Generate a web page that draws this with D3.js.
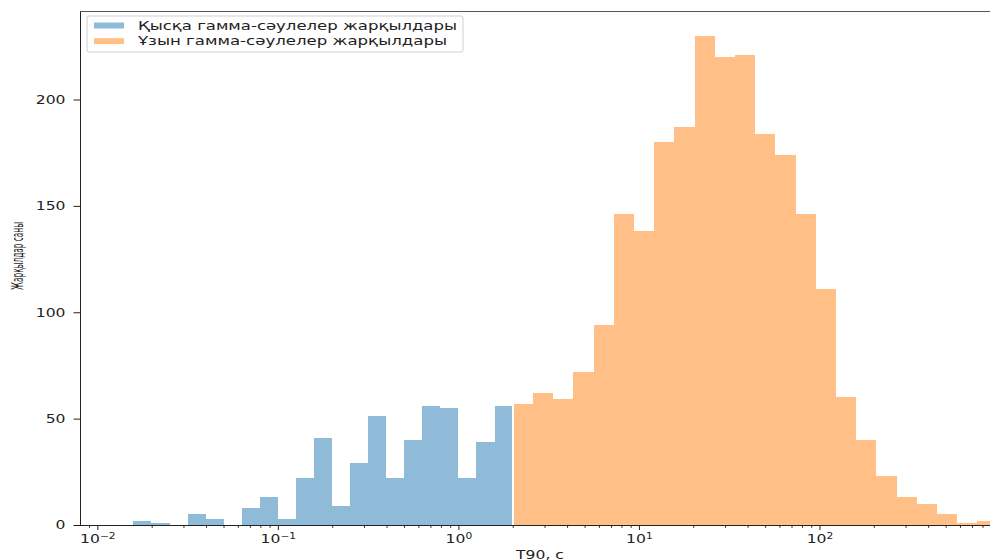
<!DOCTYPE html>
<html>
<head>
<meta charset="utf-8">
<script src="https://cdn.jsdelivr.net/npm/d3@7"></script>
<style>
  html, body { margin: 0; padding: 0; background: #fff; }
  svg { display: block; }
  text { font-family: "DejaVu Sans", sans-serif; fill: #222; }
</style>
</head>
<body>
<svg id="chart" width="990" height="560"></svg>
<script>
// ---- data ----
const shortEdges = [0.01585, 0.01995, 0.02512, 0.03162, 0.03981, 0.05012, 0.06310, 0.07943,
  0.1, 0.1259, 0.1585, 0.1995, 0.2512, 0.3162, 0.3981, 0.5012, 0.6310, 0.7943,
  1.0, 1.259, 1.585, 1.98];
const shortCounts = [2, 1, 0, 5, 3, 0, 8, 13, 3, 22, 41, 9, 29, 51, 22, 40, 56, 55, 22, 39, 56];

const longEdges = [2.03, 2.588, 3.350, 4.335, 5.610, 7.261, 9.385, 12.14, 15.71, 20.33,
  26.30, 34.04, 44.06, 57.02, 73.79, 95.50, 123.4, 159.7, 206.7, 267.5, 346.2,
  448.0, 579.7, 750.2, 970.8];
const longCounts = [57, 62, 59, 72, 94, 146, 138, 180, 187, 230, 220, 221, 184, 174,
  146, 111, 60, 40, 23, 13, 10, 5, 1, 2];

const yTicks = [0, 50, 100, 150, 200];
const xMajorTicks = [0.01, 0.1, 1, 10, 100];
const xTickExponents = ["\u22122", "\u22121", "0", "1", "2"];
const seriesNames = ["Қысқа гамма-сәулелер жарқылдары", "Ұзын гамма-сәулелер жарқылдары"];
const seriesColors = ["#1f77b4", "#ff7f0e"];
const xLabel = "T90, с";
const yLabel = "Жарқылдар саны";

(function () {
// ---- layout ----
const pL = 80, pR = 1000, pT = 11, pB = 525;
const SX = 1.3; // horizontal text stretch seen in the reference

const svg = d3.select("#chart");

const x = d3.scaleLog().domain([Math.pow(10, -2.096), 1000]).range([pL, pR]);
const y = d3.scaleLinear().domain([0, 241.6]).range([pB, pT]);

svg.append("defs").append("clipPath").attr("id", "plotclip")
  .append("rect").attr("x", pL).attr("y", pT).attr("width", pR - pL).attr("height", pB - pT);

const plot = svg.append("g").attr("clip-path", "url(#plotclip)");

function drawHist(edges, counts, color) {
  plot.append("g").selectAll("rect")
    .data(counts)
    .join("rect")
    .attr("x", (d, i) => x(edges[i]))
    .attr("width", (d, i) => x(edges[i + 1]) - x(edges[i]))
    .attr("y", d => y(d))
    .attr("height", d => y(0) - y(d))
    .attr("fill", color)
    .attr("fill-opacity", 0.5)
    .attr("shape-rendering", "crispEdges");
}
drawHist(shortEdges, shortCounts, seriesColors[0]);
drawHist(longEdges, longCounts, seriesColors[1]);

// ---- x axis ----
const xMinor = x.ticks().filter(v => Math.abs(Math.log10(v) - Math.round(Math.log10(v))) > 1e-6);
const gxMinor = svg.append("g").attr("transform", `translate(0,${pB})`)
  .call(d3.axisBottom(x).tickValues(xMinor).tickSize(2.8).tickFormat(""));
gxMinor.select(".domain").remove();
gxMinor.selectAll("line").attr("stroke", "#222");

const gx = svg.append("g").attr("transform", `translate(0,${pB})`)
  .call(d3.axisBottom(x).tickValues(xMajorTicks).tickSize(5).tickFormat(() => ""));
gx.select(".domain").remove();
gx.selectAll("line").attr("stroke", "#222");
gx.selectAll(".tick text").each(function(d, i) {
  const t = d3.select(this);
  t.text(null)
    .attr("y", null).attr("dy", null)
    .attr("transform", `translate(0,18) scale(${SX},1)`)
    .attr("font-size", 12)
    .attr("text-anchor", "middle")
    .attr("fill", "#222");
  t.append("tspan").text("10");
  t.append("tspan").attr("font-size", 8.2).attr("dy", -4.5).text(xTickExponents[i]);
});

// ---- y axis ----
const gy = svg.append("g").attr("transform", `translate(${pL},0)`)
  .call(d3.axisLeft(y).tickValues(yTicks).tickSize(6.5).tickFormat(d3.format("d")));
gy.select(".domain").remove();
gy.selectAll("line").attr("stroke", "#222");
gy.selectAll(".tick text")
  .attr("x", null)
  .attr("transform", `translate(-14.5,0) scale(${SX},1)`)
  .attr("font-size", 12)
  .attr("fill", "#222");

// ---- spines ----
const spines = svg.append("g").attr("stroke", "#222").attr("stroke-width", 1).attr("shape-rendering", "crispEdges");
spines.append("line").attr("x1", pL).attr("x2", pL).attr("y1", pT).attr("y2", pB);
spines.append("line").attr("x1", pL).attr("x2", pR).attr("y1", pB).attr("y2", pB);
spines.append("line").attr("x1", pL).attr("x2", pR).attr("y1", pT).attr("y2", pT).attr("stroke", "#555");
spines.append("line").attr("x1", pR).attr("x2", pR).attr("y1", pT).attr("y2", pB);

// ---- axis labels ----
svg.append("text")
  .attr("transform", `translate(${(pL + pR) / 2},558.5) scale(${SX},1)`)
  .attr("text-anchor", "middle")
  .attr("font-size", 12)
  .text(xLabel);

svg.append("text")
  .attr("transform", `translate(17,256) rotate(-90) scale(1,1.35)`)
  .attr("text-anchor", "middle")
  .attr("dy", "0.36em")
  .attr("font-family", "Liberation Sans, Arial, sans-serif")
  .attr("font-size", 12)
  .attr("textLength", 68)
  .attr("lengthAdjust", "spacingAndGlyphs")
  .text(yLabel);

// ---- legend ----
const lg = svg.append("g");
lg.append("rect")
  .attr("x", 87).attr("y", 16).attr("width", 376).attr("height", 36)
  .attr("rx", 2).attr("fill", "#fff").attr("fill-opacity", 0.8)
  .attr("stroke", "#d0d0d0").attr("stroke-width", 1);
const legendTextWidths = [319, 309];
seriesNames.forEach((name, i) => {
  const cy = 25.5 + i * 15.6;
  lg.append("rect")
    .attr("x", 94).attr("y", cy - 3).attr("width", 30).attr("height", 6)
    .attr("fill", seriesColors[i]).attr("fill-opacity", 0.5);
  lg.append("text")
    .attr("x", 138).attr("y", cy + 4.3)
    .attr("font-size", 12)
    .attr("textLength", legendTextWidths[i])
    .attr("lengthAdjust", "spacingAndGlyphs")
    .text(name);
});
})();
</script>
</body>
</html>
